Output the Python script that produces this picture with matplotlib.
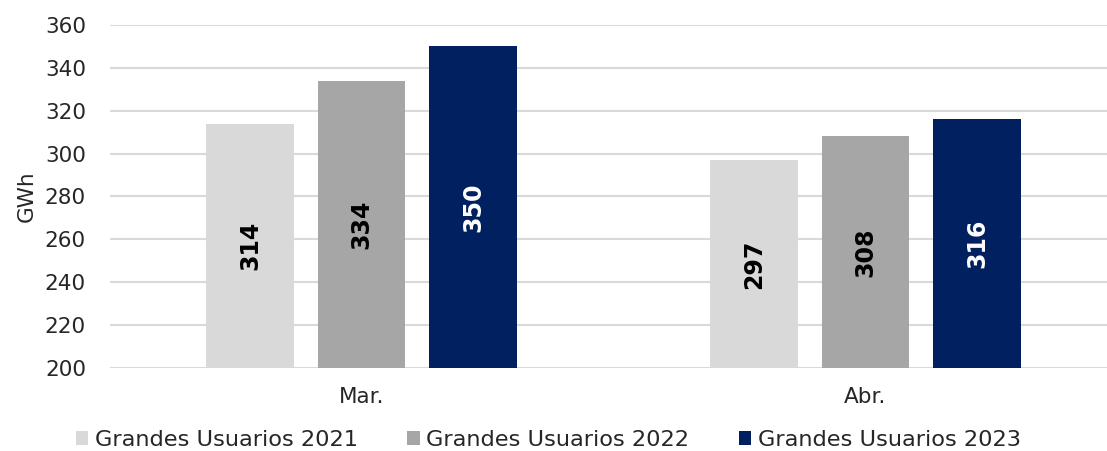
import matplotlib
matplotlib.use('Agg')
import matplotlib.pyplot as plt
import numpy as np

# data
months = ['Mar.', 'Abr.']
series = ['Grandes Usuarios 2021', 'Grandes Usuarios 2022', 'Grandes Usuarios 2023']
v2021 = [314, 297]
v2022 = [334, 308]
v2023 = [350, 316]
colors = ['#D9D9D9', '#A6A6A6', '#002060']
label_colors = ['black', 'black', 'white']

plt.rcParams['font.family'] = ['DejaVu Sans']

fig = plt.figure(figsize=(11.07, 4.51), dpi=100)
ax = fig.add_axes([109.5 / 1107, 1 - 368 / 451, 1008 / 1107, (368 - 25) / 451])

x = np.arange(len(months))
width = 0.1746
offs = 0.221
for i, (vals, c, lc, name) in enumerate(zip([v2021, v2022, v2023], colors, label_colors, series)):
    xs = x + (i - 1) * offs
    ax.bar(xs, np.array(vals) - 200, width, bottom=200, color=c, label=name, zorder=3)
    for xx, v in zip(xs, vals):
        ax.text(xx, (200 + v) / 2, str(v), rotation=90, ha='center', va='center',
                fontsize=17, fontweight='bold', color=lc, zorder=4)

ax.set_xlim(-0.5, 1.5)
ax.set_ylim(200, 360)
ax.set_yticks(range(200, 361, 20))
ax.set_xticks(x)
ax.set_xticklabels(months)
ax.grid(axis='y', color='#D9D9D9', linewidth=1.5, zorder=0)
for s in ax.spines.values():
    s.set_visible(False)
ax.tick_params(axis='y', length=0, labelsize=15.5, colors='#262626', pad=17)
ax.tick_params(axis='x', length=0, labelsize=15.5, colors='#262626', pad=14)
ax.set_ylabel('GWh', fontsize=15.5, color='#262626', labelpad=6)

fig.legend(loc='center left', bbox_to_anchor=(0.05, 0.025), ncol=3, frameon=False,
           fontsize=16.2, handlelength=0.55, handleheight=0.55, handletextpad=0.3,
           columnspacing=2.2, labelcolor='#262626')

fig.savefig('out.png', dpi=100)
